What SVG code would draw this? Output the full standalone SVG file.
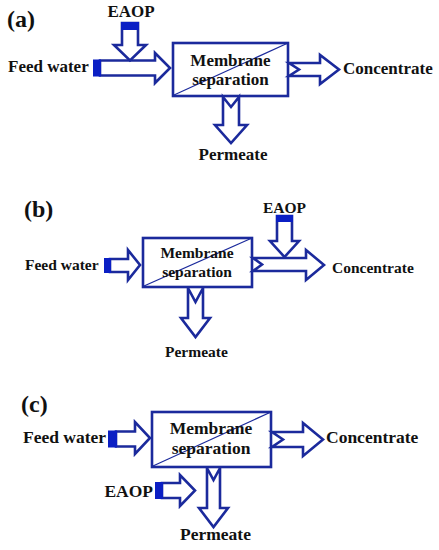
<svg xmlns="http://www.w3.org/2000/svg" width="439" height="550" viewBox="0 0 439 550">
<style>
text{font-family:"Liberation Serif","Times New Roman",serif;font-weight:bold;fill:#111}
.lbl{font-size:24px}
.a{font-size:17px}
.b{font-size:15.5px}
.c{font-size:17.5px}
.box{fill:#fff;stroke:#1b2a9c;stroke-width:2.6}
.diag{stroke:#1b2a9c;stroke-width:1.2;fill:none}
.arr{fill:#fff;stroke:#1b2a9c;stroke-width:2.6;stroke-linejoin:miter}
.tail{fill:#0b1fc4}
</style>
<rect width="439" height="550" fill="#fff"/>

<!-- Panel (a) -->
<g id="label-a"><text class="lbl" x="7" y="27">(a)</text></g>
<g id="a-feed"><text class="a" x="8" y="72">Feed water</text></g>
<g id="a-eaop"><text class="a" x="131" y="17" text-anchor="middle">EAOP</text></g>
<g id="a-membrane">
<rect class="box" x="173" y="43" width="115" height="53"/>
<line class="diag" x1="174" y1="95" x2="288" y2="43"/>
<text class="a" x="230.5" y="66" text-anchor="middle">Membrane</text>
<text class="a" x="230.5" y="85" text-anchor="middle">separation</text>
</g>
<g id="a-concentrate"><text class="a" x="343" y="74">Concentrate</text></g>
<g id="a-permeate"><text class="a" x="233" y="160" text-anchor="middle">Permeate</text></g>

<!-- Panel (b) -->
<g id="label-b"><text class="lbl" x="24" y="217">(b)</text></g>
<g id="b-feed"><text class="b" x="25" y="270">Feed water</text></g>
<g id="b-eaop"><text class="b" x="284.5" y="213" text-anchor="middle">EAOP</text></g>
<g id="b-membrane">
<rect class="box" x="143" y="238" width="109" height="49"/>
<line class="diag" x1="144" y1="286" x2="252" y2="238"/>
<text class="b" x="197" y="258" text-anchor="middle">Membrane</text>
<text class="b" x="197" y="277" text-anchor="middle">separation</text>
</g>
<g id="b-concentrate"><text class="b" x="332" y="273">Concentrate</text></g>
<g id="b-permeate"><text class="b" x="165" y="357">Permeate</text></g>

<!-- Panel (c) -->
<g id="label-c"><text class="lbl" x="21" y="412">(c)</text></g>
<g id="c-feed"><text class="c" x="23" y="443">Feed water</text></g>
<g id="c-eaop"><text class="c" x="153" y="497" text-anchor="end">EAOP</text></g>
<g id="c-membrane">
<rect class="box" x="152" y="412" width="119" height="55"/>
<line class="diag" x1="153" y1="466" x2="271" y2="412"/>
<text class="c" x="211" y="434" text-anchor="middle">Membrane</text>
<text class="c" x="211" y="454" text-anchor="middle">separation</text>
</g>
<g id="c-concentrate"><text class="c" x="326" y="443">Concentrate</text></g>
<g id="c-permeate"><text class="c" x="180" y="540">Permeate</text></g>

<g id="connectors">
<!-- (a) -->
<polygon class="arr" points="100,60.5 155,60.5 155,53 170,68 155,83 155,75.5 100,75.5"/>
<rect class="tail" x="93" y="59.5" width="8" height="17"/>
<polygon class="arr" points="122,23 138,23 138,45 146,45 130,60.5 114,45 122,45"/>
<rect class="tail" x="121" y="22" width="18" height="8"/>
<polygon class="arr" points="289,63 320,63 320,55 339,69.5 320,84 320,76 289,76 299,69.5"/>
<polygon class="arr" points="223,97 231,107 239,97 239,125 247,125 231,143 215,125 223,125"/>
<!-- (b) -->
<polygon class="arr" points="110,259 128,259 128,250 140,265 128,280 128,272 110,272"/>
<rect class="tail" x="104" y="258" width="7" height="15"/>
<polygon class="arr" points="253,258 306,258 306,250 324,265 306,280 306,271 253,271 262,264.5"/>
<polygon class="arr" points="277,216 292,216 292,241 299,241 284.5,257 270,241 277,241"/>
<rect class="tail" x="276" y="215" width="17" height="7"/>
<polygon class="arr" points="188,288 195.5,302 203,288 203,318 210,318 195.5,337 181,318 188,318"/>
<!-- (c) -->
<polygon class="arr" points="116,431.5 135,431.5 135,422 150,438 135,454 135,446.5 116,446.5"/>
<rect class="tail" x="108" y="430.5" width="9" height="17"/>
<polygon class="arr" points="272,432 303,432 303,423 323,439.5 303,456 303,447 272,447 283,439.5"/>
<polygon class="arr" points="207,468 213.5,480 220,468 220,508 228,508 213.5,527 199,508 207,508"/>
<polygon class="arr" points="162,483 180,483 180,475 195,490.5 180,506 180,498 162,498"/>
<rect class="tail" x="155" y="482" width="8" height="17"/>
</g>
</svg>
